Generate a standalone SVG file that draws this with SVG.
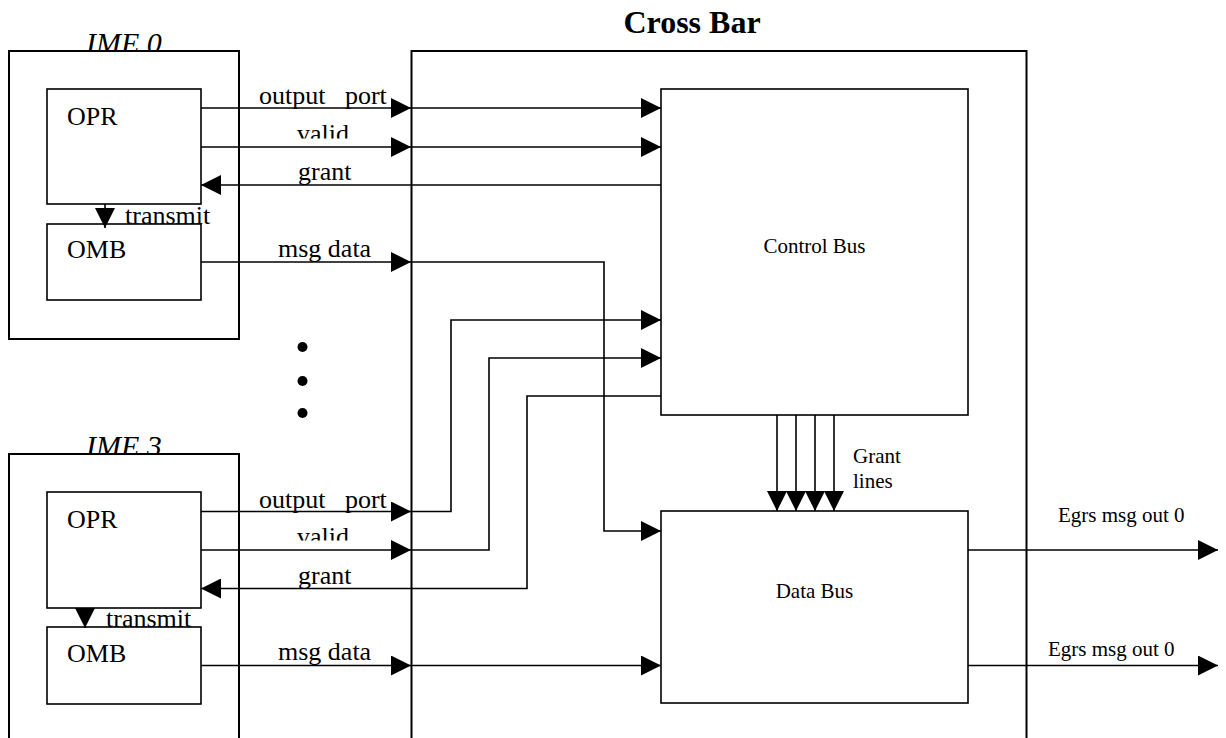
<svg xmlns="http://www.w3.org/2000/svg" width="1226" height="738" viewBox="0 0 1226 738">
<style>
.box{fill:none;stroke:#000;stroke-width:2}
.inner{fill:none;stroke:#000;stroke-width:1.6}
.ln{fill:none;stroke:#000;stroke-width:1.6}
.t{font-family:"Liberation Serif","Times New Roman",serif;fill:#000}
.big{font-size:26px}
.mid{font-size:21px}
.it{font-size:30px;font-style:italic}
.title{font-size:32px;font-weight:bold}
.arr{marker-end:url(#ah)}
</style>
<defs>
<marker id="ah" markerUnits="userSpaceOnUse" markerWidth="20" markerHeight="20" refX="20" refY="10" orient="auto" viewBox="0 0 20 20">
<path d="M0,0 L20,10 L0,20 z" fill="#000"/>
</marker>
<clipPath id="c-ime0" clipPathUnits="userSpaceOnUse"><rect x="0" y="0" width="300" height="50.5"/></clipPath>
<clipPath id="c-ime3" clipPathUnits="userSpaceOnUse"><rect x="0" y="400" width="300" height="53.5"/></clipPath>
<clipPath id="c-valid0" clipPathUnits="userSpaceOnUse"><rect x="240" y="100" width="170" height="38.5"/></clipPath>
<clipPath id="c-valid3" clipPathUnits="userSpaceOnUse"><rect x="240" y="500" width="170" height="40.5"/></clipPath>
</defs>
<rect width="1226" height="738" fill="#fff"/>

<g id="ime0">
<rect class="box" x="9" y="51" width="230" height="288"/>
<text class="t it" x="86" y="53" clip-path="url(#c-ime0)">IME 0</text>
</g>
<g id="ime0-opr">
<rect class="inner" x="47" y="89" width="154" height="115"/>
<text class="t big" x="67" y="125">OPR</text>
</g>
<g id="ime0-omb">
<rect class="inner" x="47" y="224" width="154" height="76"/>
<text class="t big" x="67" y="258">OMB</text>
</g>

<g id="ime3">
<rect class="box" x="9" y="454" width="230" height="300"/>
<text class="t it" x="86" y="456" clip-path="url(#c-ime3)">IME 3</text>
</g>
<g id="ime3-opr">
<rect class="inner" x="47" y="492" width="154" height="116"/>
<text class="t big" x="67" y="528">OPR</text>
</g>
<g id="ime3-omb">
<rect class="inner" x="47" y="627" width="154" height="77"/>
<text class="t big" x="67" y="662">OMB</text>
</g>

<g id="dots">
<circle cx="302.5" cy="347" r="5" fill="#000"/>
<circle cx="302.5" cy="381" r="5" fill="#000"/>
<circle cx="302.5" cy="413" r="5" fill="#000"/>
</g>

<g id="crossbar">
<rect class="box" x="411.5" y="51" width="615" height="700"/>
<text class="t title" x="692" y="33" text-anchor="middle">Cross Bar</text>
</g>
<g id="control-bus">
<rect class="inner" x="661" y="89" width="307" height="326"/>
<text class="t mid" x="814.5" y="253" text-anchor="middle">Control Bus</text>
</g>
<g id="data-bus">
<rect class="inner" x="661" y="511" width="307" height="192"/>
<text class="t mid" x="814.5" y="598" text-anchor="middle">Data Bus</text>
</g>

<g id="connectors">
<!-- IME 0 -->
<line class="ln arr" x1="201" y1="108" x2="411" y2="108"/>
<line class="ln arr" x1="411" y1="108" x2="661" y2="108"/>
<line class="ln arr" x1="201" y1="147" x2="411" y2="147"/>
<line class="ln arr" x1="411" y1="147" x2="661" y2="147"/>
<line class="ln arr" x1="661" y1="185" x2="201" y2="185"/>
<line class="ln arr" x1="201" y1="262" x2="411" y2="262"/>
<polyline class="ln arr" points="411,262 604,262 604,531 661,531"/>
<line class="ln arr" x1="105" y1="204" x2="105" y2="228"/>
<!-- IME 3 -->
<line class="ln arr" x1="201" y1="511.5" x2="411" y2="511.5"/>
<polyline class="ln arr" points="411,511.5 451,511.5 451,320 661,320"/>
<line class="ln arr" x1="201" y1="550" x2="411" y2="550"/>
<polyline class="ln arr" points="411,550 489,550 489,358 661,358"/>
<polyline class="ln arr" points="661,396 527,396 527,588.5 201,588.5"/>
<line class="ln arr" x1="201" y1="665.5" x2="411" y2="665.5"/>
<line class="ln arr" x1="411" y1="665.5" x2="661" y2="665.5"/>
<line class="ln arr" x1="85" y1="608" x2="85" y2="628"/>
<!-- grant lines -->
<line class="ln arr" x1="777" y1="415" x2="777" y2="511"/>
<line class="ln arr" x1="796" y1="415" x2="796" y2="511"/>
<line class="ln arr" x1="815" y1="415" x2="815" y2="511"/>
<line class="ln arr" x1="834" y1="415" x2="834" y2="511"/>
<!-- egress -->
<line class="ln arr" x1="968" y1="550" x2="1218" y2="550"/>
<line class="ln arr" x1="968" y1="665.5" x2="1218" y2="665.5"/>
</g>

<g id="labels">
<text class="t big" x="259" y="104" xml:space="preserve">output   port</text>
<text class="t big" x="297" y="142" clip-path="url(#c-valid0)">valid</text>
<text class="t big" x="298" y="180">grant</text>
<text class="t big" x="125" y="224">transmit</text>
<text class="t big" x="278" y="257">msg data</text>
<text class="t big" x="259" y="507.5" xml:space="preserve">output   port</text>
<text class="t big" x="297" y="545" clip-path="url(#c-valid3)">valid</text>
<text class="t big" x="298" y="583.5">grant</text>
<text class="t big" x="106" y="627">transmit</text>
<text class="t big" x="278" y="660">msg data</text>
<text class="t mid" x="853" y="463">Grant</text>
<text class="t mid" x="853" y="488">lines</text>
<text class="t mid" x="1058" y="522">Egrs msg out 0</text>
<text class="t mid" x="1048" y="656">Egrs msg out 0</text>
</g>
</svg>
